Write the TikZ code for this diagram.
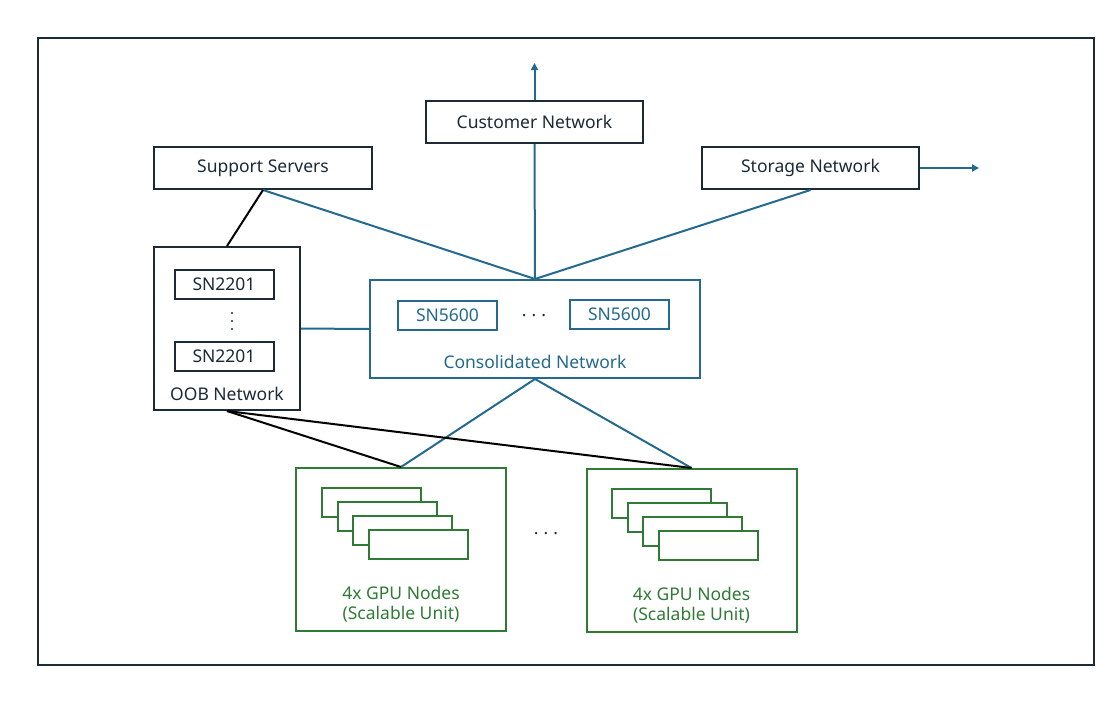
\documentclass[tikz,border=0pt]{standalone}
\usepackage{fontspec}
\setmainfont{Noto Sans}
\usetikzlibrary{arrows.meta,positioning}
\definecolor{navyline}{RGB}{28,42,54}
\definecolor{linkblue}{RGB}{35,106,142}
\definecolor{nodegreen}{RGB}{47,123,53}

\begin{document}
\begin{tikzpicture}[x=1pt, y=-1pt, font=\fontsize{17.5}{20.5}\selectfont,
      netbox/.style={rectangle, draw=navyline, line width=2pt, text=navyline,
                     minimum height=42pt, inner sep=0pt},
      swbox/.style={rectangle, draw=#1, line width=2pt, text=#1,
                    minimum width=99pt, minimum height=29pt, inner sep=0pt},
      gpubox/.style={rectangle, draw=nodegreen, line width=2pt,
                     minimum width=210pt, minimum height=163pt},
      card/.style={draw=nodegreen, line width=2pt, fill=white},
      link/.style={draw=linkblue, line width=2pt},
      oobline/.style={draw=black, line width=2pt}]
    \useasboundingbox (0,0) rectangle (1113,704);
    \draw[navyline, line width=1.3pt] (38,38) rectangle (1094,665);

    % upper networks
    \node[netbox, minimum width=217pt] (cust) at (534.5,122) {Customer Network};
    \node[netbox, minimum width=218pt] (supp) at (263,168) {Support Servers};
    \node[netbox, minimum width=217pt] (stor) at (810.5,168) {Storage Network};
    \coordinate (custup) at (534.5,63);
    \coordinate (storout) at (979,168);

    % OOB network
    \node[rectangle, draw=navyline, line width=2pt, minimum width=146pt,
          minimum height=163pt] (oob) at (227,328.5) {};
    \node[swbox=navyline] (oob1) at (224,284.5) {SN2201};
    \node[swbox=navyline] (oob2) at (224,356.5) {SN2201};
    \foreach \y in {313,321,329}
      \fill[navyline] (232,\y) circle (1.2pt);
    \node[text=navyline] (ooblbl) at (227,394) {OOB Network};

    % consolidated network
    \node[rectangle, draw=linkblue, line width=2pt, minimum width=330pt,
          minimum height=98pt] (cons) at (535,329) {};
    \node[swbox=linkblue] (sw1) at (447.5,315.5) {SN5600};
    \node[swbox=linkblue] (sw2) at (619.5,314.5) {SN5600};
    \node[text=navyline] (swdots) at (534,316) {.\hspace{5pt}.\hspace{5pt}.};
    \node[text=linkblue] (conslbl) at (535,362) {Consolidated Network};

    % scalable units
    \node[gpubox] (su1) at (401,549.5) {};
    \node[gpubox] (su2) at (691.5,550.5) {};
    \foreach \i in {0,...,3} {
      \draw[card] (322+15.7*\i,488+14*\i) rectangle +(99,29);
      \draw[card] (612+15.7*\i,489+14*\i) rectangle +(99,29);
    }
    \node[text=nodegreen, align=center] (su1lbl) at (401,604) {4x GPU Nodes\\(Scalable Unit)};
    \node[text=nodegreen, align=center] (su2lbl) at (691.5,605) {4x GPU Nodes\\(Scalable Unit)};
    \node[text=navyline] (sudots) at (546,534) {.\hspace{5pt}.\hspace{5pt}.};

    % connectors
    \draw[link, -{Triangle[length=7pt, width=7pt]}] (cust.north) -- (custup);
    \draw[link, -{Triangle[length=7pt, width=7pt]}] (stor.east) -- (storout);
    \draw[link] (cust.south) -- (cons.north);
    \draw[link] (supp.south) -- (cons.north);
    \draw[link] (stor.south) -- (cons.north);
    \draw[oobline] (supp.south) -- (oob.north);
    \draw[link] (oob.east) -- (cons.west);
    \draw[link] (cons.south) -- (su1.north);
    \draw[link] (cons.south) -- (su2.north);
    \draw[oobline] (oob.south) -- (su1.north);
    \draw[oobline] (oob.south) -- (su2.north);
  \end{tikzpicture}
\end{document}
